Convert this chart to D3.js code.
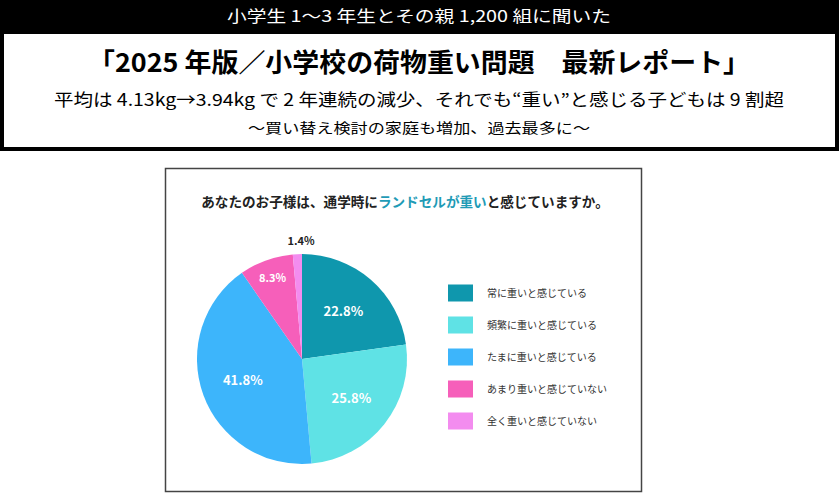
<!DOCTYPE html>
<html><head><meta charset="utf-8">
<script src="https://cdn.jsdelivr.net/npm/d3@7"></script>
<style>body{margin:0;background:#fff}svg{display:block;font-family:"Noto Sans CJK JP","Noto Sans",sans-serif}</style>
</head><body><svg id="c" width="839" height="494"></svg>
<script>
const categories=["常に重いと感じている","頻繁に重いと感じている","たまに重いと感じている","あまり重いと感じていない","全く重いと感じていない"];
const values=[22.8,25.8,41.8,8.3,1.4];
const colors=["#0f97ad","#5fe2e5","#3db5fb","#f65fba","#f38cef"];
const svg=d3.select("#c");
svg.append("rect").attr("width",839).attr("height",151).attr("fill","#000");
svg.append("rect").attr("x",4).attr("y",34).attr("width",831).attr("height",113).attr("fill","#fff");
function ht(y,size,len,txt,bold,fill){svg.append("text").attr("x",419-len/2).attr("y",y).attr("font-size",size).attr("font-weight",bold?"bold":"normal").attr("fill",fill||"#000").attr("textLength",len).attr("lengthAdjust","spacingAndGlyphs").text(txt);}
ht(22,16,384,"小学生 1〜3 年生とその親 1,200 組に聞いた",false,"#fff");
ht(72,26,662,"「2025 年版／小学校の荷物重い問題　最新レポート」",true);
ht(106,17,730,"平均は 4.13kg→3.94kg で 2 年連続の減少、それでも“重い”と感じる子どもは 9 割超",false);
ht(133,14,342,"〜買い替え検討の家庭も増加、過去最多に〜",false);
svg.append("rect").attr("x",165.5).attr("y",168.5).attr("width",476).attr("height",323).attr("fill","#fff").attr("stroke","#444").attr("stroke-width",1.5);
const t=svg.append("text").attr("x",405).attr("y",207).attr("text-anchor","middle").attr("font-size",13.6).attr("font-weight","bold").attr("fill","#222");
t.append("tspan").text("あなたのお子様は、通学時に");
t.append("tspan").attr("fill","#1f9bb6").text("ランドセルが重い");
t.append("tspan").text("と感じていますか。");
const cx=302,cy=359,r=105;
const pie=d3.pie().sort(null).value(d=>d)(values);
const arc=d3.arc().innerRadius(0).outerRadius(r);
const g=svg.append("g").attr("transform",`translate(${cx},${cy})`);
g.selectAll("path").data(pie).join("path").attr("d",arc).attr("fill",(d,i)=>colors[i]);
const la=d3.arc().innerRadius(r*0.6).outerRadius(r*0.6);
g.selectAll("text.l").data(pie).join("text").attr("class","l")
 .attr("transform",(d,i)=>{if(i===4)return `translate(-1,${-r-13})`;const c=(i===3?d3.arc().innerRadius(r*0.82).outerRadius(r*0.82):la).centroid(d);return `translate(${c})`;})
 .attr("text-anchor","middle").attr("dy","0.35em").attr("font-size",(d,i)=>i>=3?11:13).attr("font-weight","bold")
 .attr("fill",(d,i)=>i===4?"#222":"#fff").text(d=>d.data.toFixed(1)+"%");
const ly=d3.scalePoint().domain(categories).range([293,421]);
const lg=svg.append("g");
lg.selectAll("rect").data(categories).join("rect").attr("x",448).attr("y",d=>ly(d)-8.5).attr("width",25).attr("height",17).attr("fill",(d,i)=>colors[i]);
lg.selectAll("text").data(categories).join("text").attr("x",487).attr("y",d=>ly(d)).attr("dy","0.35em").attr("font-size",10).attr("fill","#333").text(d=>d);
</script></body></html>
